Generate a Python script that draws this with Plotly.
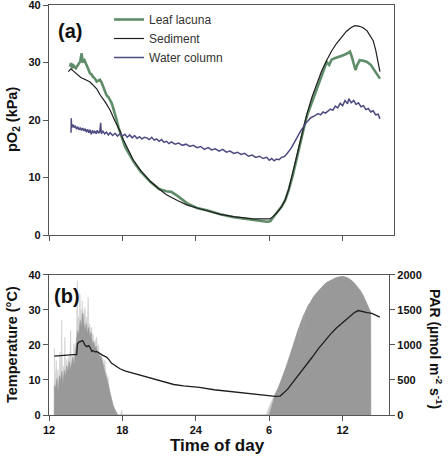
import plotly.graph_objects as go

# ---------------- Panel (a): pO2 (kPa) vs time (h, continuous from 12 h) ----------------
sed_t = [13.58, 13.8, 14.0, 14.3, 14.6, 15.0, 15.35, 15.9, 16.2, 16.6, 17.0, 17.4, 17.8, 18.05,
         18.5, 18.9, 19.5, 20.3, 21.0, 21.6, 22.5, 23.3, 24.1, 24.9, 26.0, 27.1, 28.0, 28.7,
         29.5, 30.05, 30.3, 30.6, 31.0, 31.3, 31.6, 31.95, 32.2, 32.5, 32.8, 33.1, 33.5, 33.9,
         34.3, 34.7, 35.1, 35.5, 35.9, 36.3, 36.7, 37.0, 37.4, 37.7, 38.0, 38.2, 38.5, 38.7,
         38.9, 39.05]
sed_v = [28.4, 28.9, 28.5, 27.9, 27.4, 27.0, 26.6, 25.4, 24.3, 23.1, 21.7, 19.8, 18.1, 16.7,
         14.6, 13.0, 11.2, 9.3, 8.0, 7.0, 6.0, 5.2, 4.7, 4.2, 3.6, 3.2, 2.95, 2.8,
         2.8, 2.8, 3.2, 3.8, 4.9, 6.1, 8.0, 10.8, 13.3, 16.0, 18.6, 21.2, 24.0, 26.4,
         28.6, 30.4, 32.0, 33.3, 34.4, 35.4, 36.1, 36.4, 36.3, 36.0, 35.5, 34.8, 33.8, 32.2,
         30.3, 28.4]

leaf_t = [13.72, 13.8, 13.9, 14.0, 14.2, 14.4, 14.55, 14.67, 14.75, 14.9, 15.08, 15.2, 15.35,
          15.5, 15.6, 15.75, 15.9, 16.05, 16.17, 16.3, 16.44, 16.57, 16.7, 16.85, 17.0, 17.13,
          17.26, 17.4, 17.53, 17.7, 17.94, 18.2, 18.5, 18.9, 19.5, 20.3, 21.0, 21.6, 22.0, 22.5,
          23.3, 24.1, 24.9, 26.0, 27.1, 28.0, 28.7, 29.5, 29.9, 30.1, 30.3, 30.6, 31.0, 31.3,
          31.6, 31.95, 32.2, 32.5, 32.8, 33.1, 33.5, 33.9, 34.2, 34.45, 34.7, 34.9, 35.1, 35.3,
          35.6, 35.9, 36.1, 36.4, 36.6, 36.75, 36.9, 37.05, 37.2, 37.4, 37.7, 38.0, 38.3, 38.5,
          38.8, 39.05]
leaf_v = [29.3, 29.9, 29.0, 29.5, 29.0, 29.6, 30.2, 31.6, 30.0, 30.4, 29.3, 28.9, 28.1,
          27.9, 27.5, 27.2, 26.7, 26.9, 27.0, 26.5, 25.8, 25.2, 24.3, 24.0, 23.5, 22.9,
          22.0, 21.1, 20.0, 18.6, 17.1, 15.4, 14.3, 12.8, 11.0, 9.2, 8.0, 7.6, 7.5, 6.8,
          5.5, 4.7, 4.3, 3.6, 3.1, 2.8, 2.6, 2.4, 2.3, 2.4, 3.0, 3.8, 4.9, 6.0,
          7.9, 10.6, 13.0, 15.7, 18.3, 20.8, 23.2, 25.6, 27.2, 28.8, 30.1, 29.6, 30.5, 30.7,
          30.9, 31.2, 31.3, 31.6, 31.9, 31.0, 29.9, 28.7, 29.6, 30.4, 30.3, 30.1, 29.6, 29.0,
          28.1, 27.2]

water_t = [13.80, 13.82, 13.85, 13.95, 14.05, 14.15, 14.25, 14.35, 14.45, 14.55, 14.65, 14.75,
           14.85, 14.95, 15.05, 15.15, 15.25, 15.35, 15.45, 15.55, 15.65, 15.75, 15.85, 15.95,
           16.05, 16.15, 16.22, 16.28, 16.4, 16.55, 16.7, 16.85, 17.0, 17.2, 17.4, 17.6, 17.8,
           18.0, 18.2, 18.4, 18.6, 18.8, 19.0, 19.2, 19.4, 19.6, 19.8, 20.0, 20.2, 20.4, 20.6,
           20.8, 21.0, 21.2, 21.4, 21.6, 21.8, 22.0, 22.3, 22.6, 22.9, 23.2, 23.5, 23.8, 24.1,
           24.4, 24.7, 25.0, 25.3, 25.6, 25.9, 26.2, 26.5, 26.8, 27.1, 27.4, 27.7, 28.0, 28.3,
           28.6, 28.9, 29.2, 29.5, 29.8, 30.0, 30.2, 30.4, 30.6, 30.8, 31.0, 31.2, 31.4, 31.6,
           31.8, 32.0, 32.2, 32.4, 32.6, 32.8, 33.0, 33.2, 33.4, 33.6, 33.8, 34.0, 34.2, 34.4,
           34.6, 34.8, 35.0, 35.2, 35.4, 35.6, 35.8, 36.0, 36.2, 36.4, 36.5, 36.7, 36.9, 37.1,
           37.3, 37.5, 37.7, 37.9, 38.1, 38.3, 38.5, 38.7, 38.9, 39.05]
water_v = [17.8, 20.3, 18.6, 19.2, 18.7, 19.0, 18.4, 18.8, 18.3, 18.7, 18.2, 18.6,
           18.1, 18.5, 17.9, 18.4, 17.8, 18.3, 17.5, 18.2, 17.7, 18.1, 17.6, 18.2,
           17.7, 18.0, 19.5, 17.6, 18.1, 17.6, 17.9, 17.4, 17.8, 17.3, 17.7, 17.2, 17.6,
           17.2, 17.5, 17.0, 17.4, 16.9, 17.3, 16.8, 17.1, 16.7, 17.0, 16.9, 16.6, 17.0, 16.5,
           16.7, 16.3, 16.6, 16.1, 16.3, 15.9, 16.2, 15.8, 16.0, 15.6, 15.8, 15.4, 15.6, 15.2,
           15.4, 14.9, 15.2, 14.8, 15.0, 14.6, 14.9, 14.4, 14.6, 14.2, 14.4, 14.0, 14.2, 13.7,
           13.9, 13.5, 13.7, 13.3, 13.5, 13.0, 13.3, 12.9, 13.2, 13.1, 13.5, 13.6, 14.0, 14.5,
           15.1, 15.9, 16.7, 17.4, 18.2, 18.8, 19.5, 19.9, 20.4, 20.6, 20.9, 21.1, 20.9, 21.4,
           21.2, 21.6, 21.9, 21.7, 22.4, 22.1, 22.9, 22.5, 23.4, 22.8, 23.7, 23.0, 23.4, 22.7,
           23.0, 22.3, 22.5, 21.8, 22.0, 21.4, 21.6, 20.9, 21.0, 20.2]

# ---------------- Panel (b): temperature (°C) and PAR ----------------
temp_t = [12.43, 13.0, 13.5, 14.0, 14.26, 14.33, 14.45, 14.6, 14.75, 14.85, 14.95, 15.1, 15.25,
          15.35, 15.5, 15.6, 15.75, 15.9, 16.1, 16.4, 16.7, 16.9, 17.1, 17.4, 17.8, 18.2, 18.6,
          19.0, 19.4, 20.0, 20.6, 21.0, 21.6, 22.2, 23.0, 24.3, 25.5, 27.1, 28.5, 29.8, 30.5,
          30.9, 31.5, 32.0, 32.5, 33.0, 33.5, 34.0, 34.5, 35.0, 35.5, 36.0, 36.5, 37.0, 37.3,
          37.6, 38.0, 38.4, 38.7, 39.05]
temp_v = [16.8, 17.0, 17.1, 17.2, 17.2, 20.3, 20.8, 21.1, 21.2, 20.6, 19.9, 19.5, 19.8,
          19.3, 18.1, 18.4, 18.0, 18.1, 17.6, 17.0, 16.5, 15.8, 14.8, 14.0, 13.2, 12.6, 12.2,
          11.8, 11.3, 10.7, 10.2, 9.7, 9.1, 8.7, 8.3, 7.9, 7.2, 6.6, 6.0, 5.6, 5.3,
          5.4, 7.3, 9.6, 11.8, 14.0, 16.4, 18.8, 21.0, 23.0, 24.8, 26.3, 27.8, 29.3, 29.8,
          29.5, 29.2, 29.0, 28.5, 27.9]

# PAR, light-grey spike envelope (umol m-2 s-1)
par_hi_t = [12.43, 12.44, 12.48, 12.55, 12.6, 12.64, 12.72, 12.8, 12.9, 12.98, 13.04, 13.09,
            13.18, 13.24, 13.3, 13.36, 13.45, 13.52, 13.58, 13.64, 13.72, 13.77, 13.82, 13.9,
            13.97, 14.04, 14.1, 14.18, 14.25, 14.31, 14.36, 14.42, 14.48, 14.53, 14.58, 14.64,
            14.68, 14.72, 14.78, 14.86, 14.94, 15.0, 15.08, 15.14, 15.2, 15.26, 15.33, 15.4,
            15.49, 15.55, 15.62, 15.7, 15.8, 15.9, 15.96, 16.03, 16.1, 16.17, 16.24, 16.32,
            16.4, 16.48, 16.58, 16.65, 16.72, 16.78, 16.83, 16.9, 16.98, 17.1, 17.2, 17.3,
            17.4, 17.5, 17.6, 17.65, 17.85, 17.9, 17.95, 18.0,
            29.75, 30.1, 30.5, 30.75, 31.1, 31.4, 31.7, 31.97, 32.25, 32.5, 32.8, 33.07,
            33.35, 33.6, 33.9, 34.15, 34.45, 34.7, 35.1, 35.5, 35.8, 36.06, 36.35, 36.6,
            36.9, 37.15, 37.45, 37.7, 37.9, 38.1, 38.3, 38.31]
par_hi_v = [0, 950, 400, 600, 780, 380, 650, 400, 900, 500, 1350, 520,
            700, 500, 1110, 560, 800, 620, 830, 700, 900, 1205, 700, 850,
            750, 1017, 820, 950, 1100, 1915, 1200, 1400, 1250, 1725, 1300, 1500,
            1350, 1630, 1400, 1450, 1535, 1250, 1400, 1250, 1678, 1200, 1300, 1150,
            1252, 1050, 1150, 1000, 1050, 1110, 920, 1000, 860, 875, 850, 790,
            800, 700, 780, 580, 600, 480, 543, 380, 300, 220, 160, 110,
            70, 40, 20, 0, 0, 70, 70, 0,
            0, 160, 300, 390, 540, 690, 850, 990, 1140, 1276, 1400, 1513,
            1600, 1678, 1745, 1797, 1850, 1890, 1930, 1961, 1972, 1975, 1960, 1938,
            1895, 1843, 1775, 1702, 1620, 1536, 1465, 0]

# PAR, dark-grey main body
par_lo_t = [12.43, 12.44, 12.55, 12.65, 12.75, 12.85, 12.95, 13.05, 13.15, 13.25, 13.35, 13.45,
            13.55, 13.65, 13.75, 13.85, 13.95, 14.05, 14.15, 14.25, 14.33, 14.45, 14.55, 14.65,
            14.75, 14.85, 14.95, 15.05, 15.15, 15.25, 15.35, 15.45, 15.55, 15.65, 15.75, 15.85,
            15.95, 16.05, 16.15, 16.25, 16.35, 16.45, 16.55, 16.65, 16.75, 16.85, 16.95, 17.05,
            17.15, 17.25, 17.35, 17.45, 17.55, 17.62,
            30.0, 30.5, 30.75, 31.1, 31.4, 31.7, 31.97, 32.25, 32.43, 32.45, 32.47, 32.5,
            32.83, 32.85, 32.87, 33.07, 33.18, 33.2, 33.22, 33.35, 33.6, 33.9, 34.15, 34.45,
            34.7, 35.1, 35.5, 35.8, 36.06, 36.35, 36.6, 36.9, 37.15, 37.45, 37.7, 37.9,
            38.1, 38.3, 38.31]
par_lo_v = [0, 420, 380, 520, 300, 560, 480, 620, 420, 640, 540, 700,
            600, 760, 640, 720, 820, 700, 880, 1000, 1200, 1150, 1350, 1250,
            1450, 1300, 1200, 1300, 1150, 1250, 1100, 1180, 1000, 1050, 950, 980,
            880, 900, 820, 840, 760, 720, 640, 560, 500, 420, 330, 260,
            190, 130, 90, 50, 20, 0,
            0, 300, 390, 540, 690, 850, 990, 1140, 1250, 1000, 1260, 1276,
            1430, 950, 1440, 1513, 1560, 1300, 1570, 1600, 1678, 1745, 1797, 1850,
            1890, 1930, 1961, 1972, 1975, 1960, 1938, 1895, 1843, 1775, 1702, 1620,
            1536, 1465, 0]

x_tickvals = [12, 18, 24, 30, 36]
x_ticktext = ["12", "18", "24", "6", "12"]

FONT = "Liberation Sans, Arial, sans-serif"
FRAME = "#555555"

fig = go.Figure()

fig.add_trace(go.Scatter(x=leaf_t, y=leaf_v, name="Leaf lacuna", mode="lines",
                         line=dict(color="#5f8d69", width=2.6), xaxis="x", yaxis="y"))
fig.add_trace(go.Scatter(x=sed_t, y=sed_v, name="Sediment", mode="lines",
                         line=dict(color="#1e1e1e", width=1.2), xaxis="x", yaxis="y"))
fig.add_trace(go.Scatter(x=water_t, y=water_v, name="Water column", mode="lines",
                         line=dict(color="#4d4a80", width=1.5), xaxis="x", yaxis="y"))

fig.add_trace(go.Scatter(x=par_hi_t, y=par_hi_v, mode="lines", fill="tozeroy",
                         fillcolor="#cfcfcf", line=dict(color="#cfcfcf", width=0.6),
                         showlegend=False, xaxis="x2", yaxis="y2"))
fig.add_trace(go.Scatter(x=par_lo_t, y=par_lo_v, mode="lines", fill="tozeroy",
                         fillcolor="#999999", line=dict(color="#999999", width=0.6),
                         showlegend=False, xaxis="x2", yaxis="y2"))
fig.add_trace(go.Scatter(x=temp_t, y=temp_v, mode="lines",
                         line=dict(color="#1e1e1e", width=1.3),
                         showlegend=False, xaxis="x2", yaxis="y3"))

tickfont = dict(family=FONT, size=11, color="#111111", weight="bold")
axis_common = dict(showline=True, linecolor=FRAME, linewidth=1.3, ticks="outside",
                   ticklen=5, tickcolor=FRAME, tickwidth=1, showgrid=False,
                   zeroline=False, tickfont=tickfont, automargin=False,
                   ticklabeloverflow="allow")

fig.update_layout(
    width=448, height=458,
    margin=dict(l=49, r=54, t=5, b=43, autoexpand=False),
    paper_bgcolor="white", plot_bgcolor="white",
    font=dict(family=FONT),
    xaxis=dict(domain=[0, 1], range=[12, 40.2], anchor="y", tickvals=x_tickvals,
               showticklabels=False, mirror=True, **axis_common),
    yaxis=dict(domain=[0.439, 1.0], range=[0, 40], anchor="x", tickvals=[0, 10, 20, 30, 40],
               mirror=True, **axis_common),
    xaxis2=dict(domain=[0, 0.9855], range=[12, 39.8], anchor="y2", tickvals=x_tickvals,
                ticktext=x_ticktext, mirror=True, **axis_common),
    yaxis2=dict(domain=[0, 0.342], range=[0, 2000], anchor="x2", side="right",
                tickvals=[0, 500, 1000, 1500, 2000], **axis_common),
    yaxis3=dict(range=[0, 40], overlaying="y2", anchor="x2", side="left",
                tickvals=[0, 10, 20, 30, 40], **axis_common),
    legend=dict(x=(109 - 49) / 345, y=(415 - 5) / 410, xanchor="left", yanchor="top",
                bgcolor="rgba(0,0,0,0)", font=dict(family=FONT, size=12, color="#333333"),
                tracegroupgap=0),
    showlegend=True,
)

ann = [
    dict(text="pO<sub>2</sub> (kPa)", x=(13 - 49) / 345, y=(415 - 120) / 410, textangle=-90,
         font=dict(size=14.5, weight="bold", color="#111111")),
    dict(text="Temperature (°C)", x=(12 - 49) / 345, y=(415 - 345) / 410, textangle=-90,
         font=dict(size=14.5, weight="bold", color="#111111")),
    dict(text="PAR (µmol m<sup>-2</sup> s<sup>-1</sup>)", x=(436 - 49) / 345,
         y=(415 - 349) / 410, textangle=90,
         font=dict(size=14, weight="bold", color="#111111")),
    dict(text="Time of day", x=(217 - 49) / 345, y=(415 - 445) / 410,
         font=dict(size=17, weight="bold", color="#111111")),
    dict(text="(a)", x=(56 - 49) / 345, y=(415 - 31) / 410, xanchor="left",
         font=dict(size=20, weight="bold", color="#111111")),
    dict(text="(b)", x=(52 - 49) / 345, y=(415 - 296) / 410, xanchor="left",
         font=dict(size=20, weight="bold", color="#111111")),
]
for a in ann:
    a.setdefault("xanchor", "center")
    a.update(xref="paper", yref="paper", yanchor="middle", showarrow=False)
    a["font"]["family"] = FONT
fig.update_layout(annotations=ann)

fig.write_html("out.html", config={"displayModeBar": False},
               post_script="document.body.style.margin='0';")
